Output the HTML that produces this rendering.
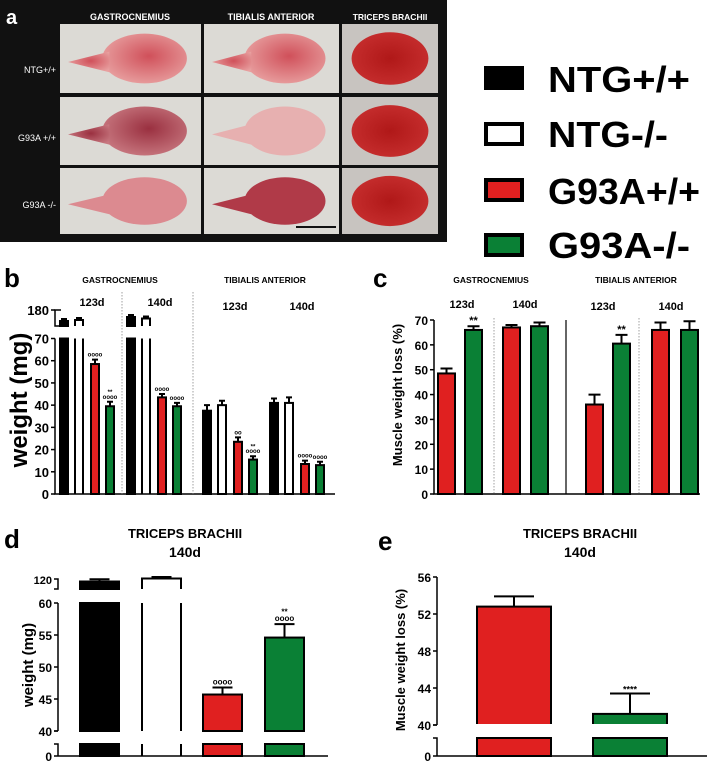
<!DOCTYPE html>
<html><head><meta charset="utf-8"><style>
body{margin:0;background:#fff}
svg{display:block;font-family:"Liberation Sans",Arial,sans-serif}
</style></head><body>
<svg id="fig" width="709" height="761" viewBox="0 0 709 761">
<defs>
<radialGradient id="gm" cx="0.55" cy="0.45" r="0.6"><stop offset="0" stop-color="#d0505a"/><stop offset="1" stop-color="#e8a0a0"/></radialGradient>
<radialGradient id="gm2" cx="0.55" cy="0.45" r="0.6"><stop offset="0" stop-color="#9a3040"/><stop offset="1" stop-color="#c87880"/></radialGradient>
<radialGradient id="tb" cx="0.5" cy="0.5" r="0.6"><stop offset="0" stop-color="#b01818"/><stop offset="1" stop-color="#c83030"/></radialGradient>
</defs>
<g>
<rect x="0" y="0" width="447" height="242" fill="#111"/>
<text x="6" y="24" font-size="20" font-weight="bold" fill="#fff">a</text>
<text x="130" y="20" font-size="9" font-weight="bold" fill="#fff" text-anchor="middle">GASTROCNEMIUS</text>
<text x="271" y="20" font-size="9" font-weight="bold" fill="#fff" text-anchor="middle">TIBIALIS  ANTERIOR</text>
<text x="390" y="20" font-size="8.5" font-weight="bold" fill="#fff" text-anchor="middle">TRICEPS BRACHII</text>
<text x="56" y="73" font-size="9" fill="#fff" text-anchor="end">NTG+/+</text>
<text x="56" y="141" font-size="9" fill="#fff" text-anchor="end">G93A +/+</text>
<text x="56" y="208" font-size="9" fill="#fff" text-anchor="end">G93A -/-</text>
<g id="photos"></g>
</g>
<g>
<rect x="486" y="68" width="36" height="20" fill="#000" stroke="#000" stroke-width="4"/>
<text x="548" y="92" font-size="36" font-weight="bold" textLength="142" lengthAdjust="spacingAndGlyphs">NTG+/+</text>
<rect x="486" y="124" width="36" height="20" fill="#fff" stroke="#000" stroke-width="4"/>
<text x="548" y="147" font-size="36" font-weight="bold" textLength="120" lengthAdjust="spacingAndGlyphs">NTG-/-</text>
<rect x="486" y="180" width="36" height="20" fill="#e02020" stroke="#000" stroke-width="4"/>
<text x="548" y="204" font-size="36" font-weight="bold" textLength="152" lengthAdjust="spacingAndGlyphs">G93A+/+</text>
<rect x="486" y="235" width="36" height="20" fill="#0a8035" stroke="#000" stroke-width="4"/>
<text x="548" y="258" font-size="36" font-weight="bold" textLength="142" lengthAdjust="spacingAndGlyphs">G93A-/-</text>
</g>
<g id="charts"></g>
</svg>
<script>
// ---- data ----
const colors = ["#000", "#fff", "#e02020", "#0a8035"];
// panel b: weight (mg), groups: G123, G140, TA123, TA140 ; null = above break
const bValues = [[null, null, 58.5, 39.5], [null, null, 43.5, 39.5], [37.5, 40, 23.5, 15.5], [41, 41, 13.5, 13]];
const bErrors = [[0, 0, 2, 2], [0, 0, 1.5, 1.5], [2.5, 2, 2, 1.5], [2, 2.5, 1.5, 1.5]];
const bTopValues = [[160, 162, null, null], [168, 165, null, null]];
const bTicks = [0, 10, 20, 30, 40, 50, 60, 70];
const bMarks = [["", "", "oooo", "**\noooo"], ["", "", "oooo", "oooo"], ["", "", "oo", "**\noooo"], ["", "", "oooo", "oooo"]];
// panel c: muscle weight loss (%)
const cValues = [[48.5, 66], [67, 67.5], [36, 60.5], [66, 66]];
const cErrors = [[2, 1.5], [1, 1.5], [4, 3.5], [3, 3.5]];
const cMarks = [["", "**"], ["", ""], ["", "**"], ["", ""]];
const cTicks = [0, 10, 20, 30, 40, 50, 60, 70];
// panel d: triceps weight
const dValues = [115, 117, 45.7, 54.6];
const dErrors = [1.5, 1, 1.1, 2.1];
const dTicks = [40, 45, 50, 55, 60];
const dMarks = ["", "", "oooo", "**\noooo"];
// panel e
const eValues = [52.8, 41.2];
const eErrors = [1.1, 2.2];
const eTicks = [40, 44, 48, 52, 56];
const eMarks = ["", "****"];

const NS = "http://www.w3.org/2000/svg";
const root = document.getElementById("charts");
function mk(tag, attrs, parent) {
  const e = document.createElementNS(NS, tag);
  for (const k in attrs) e.setAttribute(k, attrs[k]);
  (parent || root).appendChild(e);
  return e;
}
function txt(x, y, s, size, attrs, parent) {
  const t = mk("text", Object.assign({x: x, y: y, "font-size": size, "font-weight": "bold"}, attrs || {}), parent);
  t.textContent = s;
  return t;
}
function errBar(x, cx, yv, ye, w, name) {
  const g = mk("path", {d: `M${cx},${yv}V${ye}M${cx - w},${ye}H${cx + w}`, stroke: "#000", "stroke-width": 2, fill: "none"});
  
  
}
function marks(cx, y, s, size) {
  const lines = s.split("\n");
  for (let i = 0; i < lines.length; i++) {
    const t = txt(cx, y - (lines.length - 1 - i) * size * 0.8, lines[i], size, {"text-anchor": "middle"});
    
    
  }
}
// bar drawing: white bars drawn open (side lines only) in lower segments
function bar(x, y, w, h, fill, open, name) {
  let r;
  if (open) {
    r = mk("path", {d: `M${x},${y}V${y + h}M${x + w},${y}V${y + h}`, stroke: "#000", "stroke-width": 2, fill: "none"});
  } else {
    r = mk("rect", {x: x, y: y, width: w, height: h, fill: fill, stroke: "#000", "stroke-width": 2});
  }
  
  
  return r;
}

// photos for panel a
(function () {
  const ph = document.getElementById("photos");
  const cols = [[60, 141], [204, 135], [342, 96]];
  const rows = [[24, 69], [97, 68], [168, 66]];
  const fills = [["url(#gm)", "url(#gm)", "url(#tb)"], ["url(#gm2)", "#e7b0b0", "url(#tb)"], ["#dc8a90", "#b03a48", "url(#tb)"]];
  for (let r = 0; r < 3; r++) for (let c = 0; c < 3; c++) {
    const [x, w] = cols[c], [y, h] = rows[r];
    const bg = mk("rect", {x: x, y: y, width: w, height: h, fill: c === 2 ? "#c8c4c0" : "#dcdad5"}, ph);
    
    
    if (c < 2) {
      mk("ellipse", {cx: x + w * 0.6, cy: y + h * 0.5, rx: w * 0.3, ry: h * 0.36, fill: fills[r][c]}, ph);
      mk("path", {d: `M${x + 8},${y + h * 0.55}L${x + w * 0.35},${y + h * 0.4}L${x + w * 0.35},${y + h * 0.7}Z`, fill: fills[r][c]}, ph);
    } else {
      mk("ellipse", {cx: x + w * 0.5, cy: y + h * 0.5, rx: w * 0.4, ry: h * 0.38, fill: fills[r][c]}, ph);
    }
  }
  mk("rect", {x: 296, y: 226, width: 40, height: 2, fill: "#111"}, ph);
})();

// ---- panel b ----
(function () {
  const x0 = 55, y0 = 494, per = 155.5 / 70;
  const Y = v => y0 - v * per;
  const groupX = [60, 127, 203, 270], off = [0, 15, 31, 46], bw = 10;
  txt(4, 287, "b", 26);
  txt(120, 283, "GASTROCNEMIUS", 8.5, {"text-anchor": "middle"});
  txt(265, 283, "TIBIALIS ANTERIOR", 8.5, {"text-anchor": "middle"});
  [["123d", 92], ["140d", 160], ["123d", 235], ["140d", 302]].forEach((d, i) => txt(d[1], i < 2 ? 306 : 310, d[0], 11, {"text-anchor": "middle"}));
  const yl = txt(0, 0, "weight (mg)", 24, {"text-anchor": "middle", transform: "translate(27,400) rotate(-90)"});
  
  mk("path", {d: `M${x0},${Y(70)}V${y0}H335`, stroke: "#000", "stroke-width": 1.5, fill: "none"});
  mk("path", {d: `M${x0 + 6},310H${x0}V326H${x0 + 6}`, stroke: "#000", "stroke-width": 1.5, fill: "none"});
  mk("path", {d: `M${x0 - 4},310H${x0}`, stroke: "#000", "stroke-width": 1.5});
  txt(x0 - 6, 315, "180", 13, {"text-anchor": "end"});
  bTicks.forEach(t => {
    mk("path", {d: `M${x0 - 4},${Y(t)}H${x0}`, stroke: "#000", "stroke-width": 1.5});
    txt(x0 - 6, Y(t) + 5, String(t), 13, {"text-anchor": "end"});
  });
  [122, 193].forEach(x => mk("path", {d: `M${x},292V${y0}`, stroke: "#888", "stroke-width": 0.8, "stroke-dasharray": "1.5,1.5"}));
  const topY = v => 326 - (v - 150) * 0.5;
  for (let g = 0; g < 4; g++) for (let s = 0; s < 4; s++) {
    const x = groupX[g] + off[s];
    const v = bValues[g][s];
    if (v === null) {
      const tv = bTopValues[g][s];
      bar(x, Y(70), bw - 2, y0 - Y(70), colors[s], s === 1, 'bar-b-lower');
      const ty = topY(tv);
      if (s === 1) {
        const r2 = mk("path", {d: `M${x},326V${ty}H${x + bw - 2}V326`, stroke: "#000", "stroke-width": 2, fill: "#fff"});
        
        
      } else {
        bar(x, ty, bw - 2, 326 - ty, colors[s], false, 'bar-b-upper');
      }
      errBar(x, x + (bw - 2) / 2, ty, ty - 2, 3, 'error-bar-b');
    } else {
      bar(x, Y(v), bw - 2, y0 - Y(v), colors[s], false, 'bar-b');
      const ye = Y(v + bErrors[g][s]);
      errBar(x, x + (bw - 2) / 2, Y(v), ye, 3, 'error-bar-b');
      if (bMarks[g][s]) marks(x + (bw - 2) / 2, ye - 3, bMarks[g][s], 6);
    }
  }
})();

// ---- panel c ----
(function () {
  const x0 = 434, y0 = 494, per = 174 / 70;
  const Y = v => y0 - v * per;
  const xs = [[438, 465], [503, 531], [586, 613], [652, 681]], bw = 17;
  const fills = ["#e02020", "#0a8035"];
  txt(373, 287, "c", 26);
  txt(491, 283, "GASTROCNEMIUS", 8.5, {"text-anchor": "middle"});
  txt(636, 283, "TIBIALIS ANTERIOR", 8.5, {"text-anchor": "middle"});
  [["123d", 462], ["140d", 525], ["123d", 603], ["140d", 671]].forEach((d, i) => txt(d[1], i < 2 ? 308 : 310, d[0], 11, {"text-anchor": "middle"}));
  const yl = txt(0, 0, "Muscle weight loss (%)", 13, {"text-anchor": "middle", transform: "translate(402,395) rotate(-90)"});
  
  mk("path", {d: `M${x0},${Y(70)}V${y0}H700`, stroke: "#000", "stroke-width": 1.5, fill: "none"});
  cTicks.forEach(t => {
    mk("path", {d: `M${x0 - 4},${Y(t)}H${x0}`, stroke: "#000", "stroke-width": 1.5});
    txt(x0 - 6, Y(t) + 5, String(t), 12, {"text-anchor": "end"});
  });
  [494, 639].forEach(x => mk("path", {d: `M${x},318V${y0}`, stroke: "#888", "stroke-width": 0.8, "stroke-dasharray": "1.5,1.5"}));
  mk("path", {d: `M566,320V${y0}`, stroke: "#000", "stroke-width": 1.2});
  for (let g = 0; g < 4; g++) for (let s = 0; s < 2; s++) {
    const x = xs[g][s], v = cValues[g][s];
    bar(x, Y(v), bw, y0 - Y(v), fills[s], false, 'bar-c');
    const ye = Y(v + cErrors[g][s]);
    errBar(x, x + bw / 2, Y(v), ye, 6, 'error-bar-c');
    if (cMarks[g][s]) marks(x + bw / 2, ye - 2, cMarks[g][s], 11);
  }
})();

// ---- panel d ----
(function () {
  const x0 = 58, y40 = 731, per = 128 / 20, yZero = 756;
  const Y = v => y40 - (v - 40) * per;
  const xs = [80, 142, 203, 265], bw = 39;
  txt(4, 548, "d", 26);
  txt(185, 538, "TRICEPS BRACHII", 13, {"text-anchor": "middle"});
  txt(185, 557, "140d", 14, {"text-anchor": "middle"});
  const yl = txt(0, 0, "weight (mg)", 15, {"text-anchor": "middle", transform: "translate(33,665) rotate(-90)"});
  
  mk("path", {d: `M${x0},${Y(60)}V${y40}M${x0 - 4},${y40}H${x0}`, stroke: "#000", "stroke-width": 1.5, fill: "none"});
  mk("path", {d: `M${x0 - 4},744H${x0}V${yZero}H328M${x0 - 4},${yZero}H${x0}`, stroke: "#000", "stroke-width": 1.5, fill: "none"});
  mk("path", {d: `M${x0 - 4},579H${x0}V589H${x0 - 4}`, stroke: "#000", "stroke-width": 1.5, fill: "none"});
  txt(x0 - 6, 584, "120", 11, {"text-anchor": "end"});
  txt(x0 - 6, 761, "0", 12, {"text-anchor": "end"});
  dTicks.forEach(t => {
    mk("path", {d: `M${x0 - 4},${Y(t)}H${x0}`, stroke: "#000", "stroke-width": 1.5});
    txt(x0 - 6, Y(t) + 5, String(t), 12, {"text-anchor": "end"});
  });
  const topY = v => 589 - (v - 110) * 1.5;
  for (let s = 0; s < 4; s++) {
    const x = xs[s], v = dValues[s];
    bar(x, 744, bw, yZero - 744, colors[s], s === 1, 'bar-d-base');
    if (v > 60) {
      bar(x, Y(60), bw, y40 - Y(60), colors[s], s === 1, 'bar-d');
      const ty = topY(v);
      if (s === 1) {
        const r2 = mk("path", {d: `M${x},589V${ty}H${x + bw}V589`, stroke: "#000", "stroke-width": 2, fill: "#fff"});
        
        
      } else {
        bar(x, ty, bw, 589 - ty, colors[s], false, 'bar-d-upper');
      }
      errBar(x, x + bw / 2, ty, topY(v + dErrors[s]), 10, 'error-bar-d');
    } else {
      bar(x, Y(v), bw, y40 - Y(v), colors[s], false, 'bar-d');
      const ye = Y(v + dErrors[s]);
      errBar(x, x + bw / 2, Y(v), ye, 10, 'error-bar-d');
      if (dMarks[s]) marks(x + bw / 2, ye - 3, dMarks[s], 8);
    }
  }
})();

// ---- panel e ----
(function () {
  const x0 = 437, y40 = 725, per = 148 / 16, yZero = 756;
  const Y = v => y40 - (v - 40) * per;
  const xs = [477, 593], bw = 74;
  const fills = ["#e02020", "#0a8035"];
  txt(378, 550, "e", 26);
  txt(580, 538, "TRICEPS BRACHII", 13, {"text-anchor": "middle"});
  txt(580, 557, "140d", 14, {"text-anchor": "middle"});
  const yl = txt(0, 0, "Muscle weight loss (%)", 13, {"text-anchor": "middle", transform: "translate(405,660) rotate(-90)"});
  
  mk("path", {d: `M${x0},${Y(56)}V${y40}M${x0 - 4},${y40}H${x0}`, stroke: "#000", "stroke-width": 1.5, fill: "none"});
  mk("path", {d: `M${x0 - 4},738H${x0}V${yZero}H707M${x0 - 4},${yZero}H${x0}`, stroke: "#000", "stroke-width": 1.5, fill: "none"});
  txt(x0 - 6, 761, "0", 12, {"text-anchor": "end"});
  eTicks.forEach(t => {
    mk("path", {d: `M${x0 - 4},${Y(t)}H${x0}`, stroke: "#000", "stroke-width": 1.5});
    txt(x0 - 6, Y(t) + 5, String(t), 12, {"text-anchor": "end"});
  });
  for (let s = 0; s < 2; s++) {
    const x = xs[s], v = eValues[s];
    bar(x, 738, bw, yZero - 738, fills[s], false, 'bar-e-base');
    bar(x, Y(v), bw, y40 - Y(v), fills[s], false, 'bar-e');
    mk("rect", {x: x - 2, y: y40 - 1, width: bw + 4, height: 3, fill: "#fff"});
    const ye = Y(v + eErrors[s]);
    errBar(x, x + bw / 2, Y(v), ye, 20, 'error-bar-e');
    if (eMarks[s]) marks(x + bw / 2, ye - 1, eMarks[s], 9);
  }
})();
</script>
</body></html>
